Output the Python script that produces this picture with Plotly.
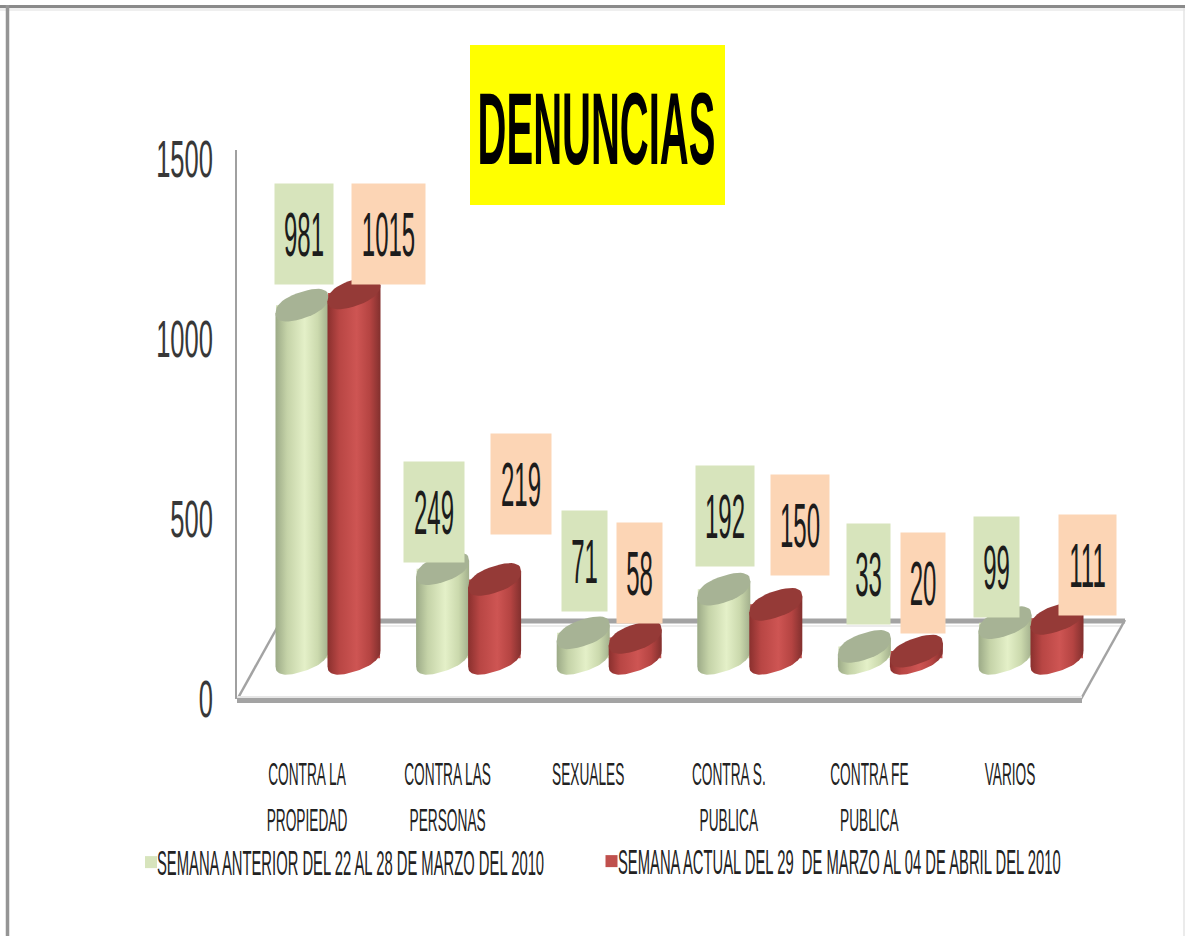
import math
import plotly.graph_objects as go

# ---- data ----
categories = ["CONTRA LA<br>PROPIEDAD", "CONTRA LAS<br>PERSONAS", "SEXUALES",
              "CONTRA S.<br>PUBLICA", "CONTRA FE<br>PUBLICA", "VARIOS"]
semana_anterior = [981, 249, 71, 192, 33, 99]
semana_actual = [1015, 219, 58, 150, 20, 111]
name_anterior = "SEMANA ANTERIOR DEL 22 AL 28 DE MARZO DEL 2010"
name_actual = "SEMANA ACTUAL DEL 29  DE MARZO AL 04 DE ABRIL DEL 2010"
y_ticks = [0, 500, 1000, 1500]
title_text = "DENUNCIAS"

# ---- layout constants ----
W, H = 1185, 936
PLOT_L, PLOT_R, PLOT_T, PLOT_B = 237, 1125, 150, 699
PX_X = 140.6           # pixels per category
PX_Y = 0.36            # pixels per unit
GROUP0 = 328           # pixel of first category centre
FLOOR = 113            # floor depth of the fake 3-D, in value units
BAR_OFF = 26 / PX_X
A, B, K = 26.5, 13.5, 8
ROUND = 0.85           # blunts the ellipse ends of the cylinders

# label placement relative to bar tops (pixels), boxes (pixels)
GREEN_BOX = [(2, 71.3), (-9, 56.7), (1, 71.8), (1, 73.7), (4.5, 72.5), (-9, 55.7)]
RED_BOX = [(34.5, 58.9), (26.4, 95), (4.3, 64), (24, 79.8), (7, 68.6), (30.5, 53.8)]
GREEN_W = [58, 60, 45, 58, 43, 45]
RED_W = [73, 60, 45, 58, 44, 57]

GREEN_SCALE = [[0, "#9caa87"], [0.22, "#c5d3a8"], [0.55, "#e4f0c8"], [0.8, "#cbd9ad"], [1, "#a3b08d"]]
RED_SCALE = [[0, "#8a302e"], [0.22, "#b84644"], [0.55, "#ce5553"], [0.8, "#b54442"], [1, "#82302e"]]
GREEN_CAP, RED_CAP = "#a7b395", "#953a37"
GREEN_BAR, RED_BAR = "#d7e4bc", "#c0504d"
GREEN_LABEL, RED_LABEL = "#d7e4bc", "#fcd5b5"
GRAY = "#a3a3a3"
FONT = "Liberation Sans Narrow, Arial Narrow, Liberation Sans, sans-serif"


def px(x):
    return (x - PLOT_L) / (PLOT_R - PLOT_L)


def py(y):
    return (PLOT_B - y) / (PLOT_B - PLOT_T)


def ell(t):
    c, s = math.cos(t), math.sin(t)
    c = math.copysign(abs(c) ** ROUND, c)
    s = math.copysign(abs(s) ** ROUND, s)
    return A * c, K * c + B * s


N = 40
xs = list(range(len(categories)))
fig = go.Figure()

fig.add_bar(x=xs, y=semana_anterior, base=[FLOOR] * 6, name=name_anterior,
            marker=dict(color=GREEN_BAR, line_width=0), offsetgroup="a", hoverinfo="skip")
fig.add_bar(x=xs, y=semana_actual, base=[FLOOR] * 6, name=name_actual,
            marker=dict(color=RED_BAR, line_width=0), offsetgroup="b", hoverinfo="skip")

for i in xs:
    for vals, off, scale, cap in ((semana_anterior, -BAR_OFF, GREEN_SCALE, GREEN_CAP),
                                  (semana_actual, BAR_OFF, RED_SCALE, RED_CAP)):
        cx = i + off
        top = vals[i] + FLOOR
        bx, by = [], []
        for n in range(N + 1):
            ex, ey = ell(math.pi + math.pi * n / N)
            bx.append(cx + ex / PX_X)
            by.append(FLOOR + ey / PX_Y)
        ex, ey = ell(0)
        bx.append(cx + ex / PX_X)
        by.append(top + ey / PX_Y)
        ex, ey = ell(math.pi)
        bx.append(cx + ex / PX_X)
        by.append(top + ey / PX_Y)
        bx.append(bx[0])
        by.append(by[0])
        fig.add_scatter(x=bx, y=by, mode="lines", line=dict(width=0), fill="toself",
                        fillgradient=dict(type="horizontal", colorscale=scale),
                        showlegend=False, hoverinfo="skip")
        cxs, cys = [], []
        for n in range(N + 1):
            ex, ey = ell(2 * math.pi * n / N)
            cxs.append(cx + ex / PX_X)
            cys.append(top + ey / PX_Y)
        fig.add_scatter(x=cxs, y=cys, mode="lines", line=dict(width=0), fill="toself",
                        fillcolor=cap, showlegend=False, hoverinfo="skip")

annotations = []
for i in xs:
    for vals, off, box, widths, color in (
            (semana_anterior, -BAR_OFF, GREEN_BOX, GREEN_W, GREEN_LABEL),
            (semana_actual, BAR_OFF, RED_BOX, RED_W, RED_LABEL)):
        dx, dy = box[i]
        annotations.append(dict(
            x=i + off, y=vals[i] + FLOOR, xref="x", yref="y", text=str(vals[i]),
            showarrow=False, xshift=dx, yshift=dy, width=widths[i], height=100,
            bgcolor=color, borderpad=0, align="center", valign="middle",
            font=dict(family=FONT, size=24, color="#1c1c1c"), xanchor="center", yanchor="middle"))


def line(x0, y0, x1, y1, w, color=GRAY):
    return dict(type="line", xref="paper", yref="paper", x0=px(x0), y0=py(y0), x1=px(x1), y1=py(y1),
                line=dict(color=color, width=w), layer="below")


shapes = [
    dict(type="rect", xref="paper", yref="paper", x0=px(470), x1=px(725), y0=py(205), y1=py(45),
         fillcolor="#ffff00", line_width=0, layer="below"),
    line(0, 9.5, 1185, 9.5, 3, "#efefef"),
    line(0, 6.5, 1185, 6.5, 3, "#8a8a8a"),
    line(7.5, 5, 7.5, 936, 3.5, "#959595"),
    line(1184, 8, 1184, 936, 1.5, "#e4e4e4"),
    line(278, 621, 1125, 621, 5),
    line(278, 626, 1122, 626, 2, "#ececec"),
    line(278, 626, 238, 698, 2.5),
    line(1125, 620, 1081, 699, 2.5),
    line(237, 700.5, 1082, 700.5, 5),
    line(237, 697, 1082, 697, 2, "#e6e6e6"),
]

fig.update_layout(
    width=W, height=H, autosize=False,
    font=dict(family=FONT, size=14.8, color="#222222"),
    margin=dict(l=PLOT_L, r=W - PLOT_R, t=PLOT_T, b=H - PLOT_B, autoexpand=False),
    paper_bgcolor="white", plot_bgcolor="rgba(0,0,0,0)",
    barmode="group", bargap=0.26, bargroupgap=0,
    title=dict(text=title_text, xref="container", yref="container", x=596.5 / W, y=1 - 128 / H,
               xanchor="center", yanchor="middle",
               font=dict(family=FONT, size=40, color="black", weight="bold")),
    xaxis=dict(range=[(PLOT_L - GROUP0) / PX_X, (PLOT_R - GROUP0) / PX_X],
               tickmode="array", tickvals=[i - 21 / PX_X for i in xs], ticktext=categories,
               showgrid=False, zeroline=False, showline=False, ticks="", ticklabelstandoff=71,
               tickangle=0, tickfont=dict(family=FONT, size=13.7, color="#222222")),
    yaxis=dict(range=[0, (PLOT_B - PLOT_T) / PX_Y], tickmode="array", tickvals=y_ticks,
               showgrid=False, zeroline=False, showline=True, linecolor="#a0a0a0", linewidth=2,
               ticks="", ticklabelstandoff=17,
               tickfont=dict(family=FONT, size=25.5, color="#383838")),
    legend=dict(orientation="h", x=131 / W, y=1 - 846 / H, xanchor="left", yanchor="top",
                xref="container", yref="container", bgcolor="rgba(0,0,0,0)", itemwidth=30,
                entrywidth=300, entrywidthmode="pixels", traceorder="normal",
                font=dict(family=FONT, size=14.8, color="#222222")),
    annotations=annotations,
    shapes=shapes,
    showlegend=True,
)

post = """
document.body.style.margin='0';
document.documentElement.style.overflow='hidden';
function one(t, sy, sx, dy, baseline, dx){
  var prev=t.getAttribute('transform')||'';
  var b=t.getBBox(), cx=b.x+b.width/2, cy=b.y+b.height/2;
  if(baseline){ cy=parseFloat(t.getAttribute('y'))||cy; }
  t.setAttribute('transform', prev+' translate('+(dx||0)+' '+(dy||0)+') translate('+cx+' '+cy+') scale('+sx+' '+sy+') translate('+(-cx)+' '+(-cy)+')');
}
function st(sel, sy, sx, dy, baseline, dx){
  document.querySelectorAll(sel).forEach(function(t){ one(t, sy, sx, dy, baseline, dx); });
}
document.querySelectorAll('.xtick text tspan.line').forEach(function(s){
  if(s.previousElementSibling) s.setAttribute('dy','20.8px');
});
st('.annotation-text', 2.6, 1, 0);
st('.ytick text', 2.0, 1, 0);
st('.xtick text', 2.25, 1, 0, true);
st('.gtitle', 2.55, 1, 0);
document.querySelectorAll('.legend .scrollbox').forEach(function(s){ s.removeAttribute('clip-path'); s.style.clipPath='none'; });
document.querySelectorAll('.legend .legendtext').forEach(function(t){
  var second=(t.textContent||'').indexOf('ACTUAL')>=0;
  one(t, 2.4, 1, 0, false, second ? -13.5 : -14);
});
st('path.legendbar', 1.9, 0.65, 0);
var tr=document.querySelectorAll('.legend .traces');
if(tr.length==2){
  var m=/translate\\(([-\\d.]+)[ ,]+([-\\d.]+)\\)/.exec(tr[0].getAttribute('transform')||'');
  var x0=m?parseFloat(m[1]):0, y0=m?parseFloat(m[2]):0;
  tr[1].setAttribute('transform','translate('+(x0+460.5)+' '+(y0-1)+')');
}
"""
fig.write_html("out.html", config=dict(displayModeBar=False), post_script=post)
